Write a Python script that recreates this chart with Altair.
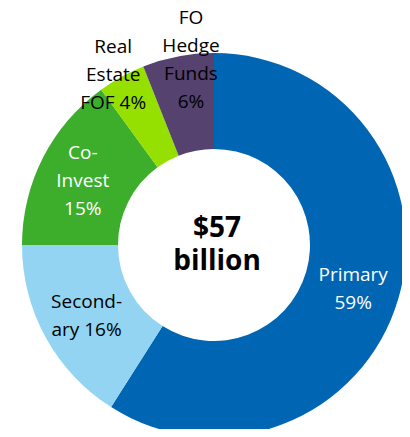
import altair as alt
import pandas as pd
import math

categories = ["Primary", "Secondary", "Co-Invest", "Real Estate FOF", "FO Hedge Funds"]
shares = [59, 16, 15, 4, 6]
labels = [["Primary", "59%"], ["Second-", "ary 16%"], ["Co-", "Invest", "15%"],
          ["Real", "Estate", "FOF 4%"], ["FO", "Hedge", "Funds", "6%"]]
center_text = ["$57", "billion"]

# styling
colors = ["#0066B3", "#92D4F1", "#3DAE2B", "#95E000", "#55426E"]
label_colors = ["white", "black", "white", "black", "black"]
label_radius = [146, 146, 146, 198, 186]
label_dtheta_deg = [1.4, -0.4, -1.0, -1.8, 3.7]
LINE_H = 28

total = sum(shares)
cum = 0
mids = []
for s, d in zip(shares, label_dtheta_deg):
    mids.append((cum + s / 2) / total * 2 * math.pi + math.radians(d))
    cum += s

df = pd.DataFrame({
    "category": categories,
    "share": shares,
    "order": list(range(len(categories))),
    "label": ["\n".join(l) for l in labels],
    "nlines": [len(l) for l in labels],
    "lcolor": label_colors,
    "lr": label_radius,
    "mid": mids,
})

CX, CY = 206, 237
base = alt.Chart(df)

arcs = base.mark_arc(radius=192, radius2=96, stroke=None).encode(
    theta=alt.Theta("share:Q", stack=True),
    order=alt.Order("order:Q"),
    color=alt.Color("category:N", scale=alt.Scale(domain=categories, range=colors), legend=None),
    x=alt.value(CX), y=alt.value(CY),
)

text_layers = []
for n in sorted(set(df["nlines"])):
    t = base.transform_filter(alt.datum.nlines == n).mark_text(
        font="Open Sans", fontSize=19, lineBreak="\n", lineHeight=LINE_H,
        align="center", baseline="middle", dy=-(n - 1) * LINE_H / 2).encode(
        theta=alt.Theta("mid:Q", scale=None),
        radius=alt.Radius("lr:Q", scale=None),
        text="label:N",
        color=alt.Color("lcolor:N", scale=None),
        x=alt.value(CX), y=alt.value(CY),
    )
    text_layers.append(t)

center = alt.Chart(pd.DataFrame({"t": ["\n".join(center_text)]})).mark_text(
    font="Open Sans", fontSize=28, fontWeight="bold", lineBreak="\n", lineHeight=33,
    align="center", baseline="middle", color="black", dy=-16.5).encode(
    text="t:N", x=alt.value(CX + 3), y=alt.value(CY))

chart = alt.layer(arcs, *text_layers, center).properties(
    width=394, height=421, autosize=alt.AutoSizeParams(type="none"), padding=0
).configure_view(stroke=None)

chart.save("out.html", embed_options={"renderer": "svg", "actions": False})
